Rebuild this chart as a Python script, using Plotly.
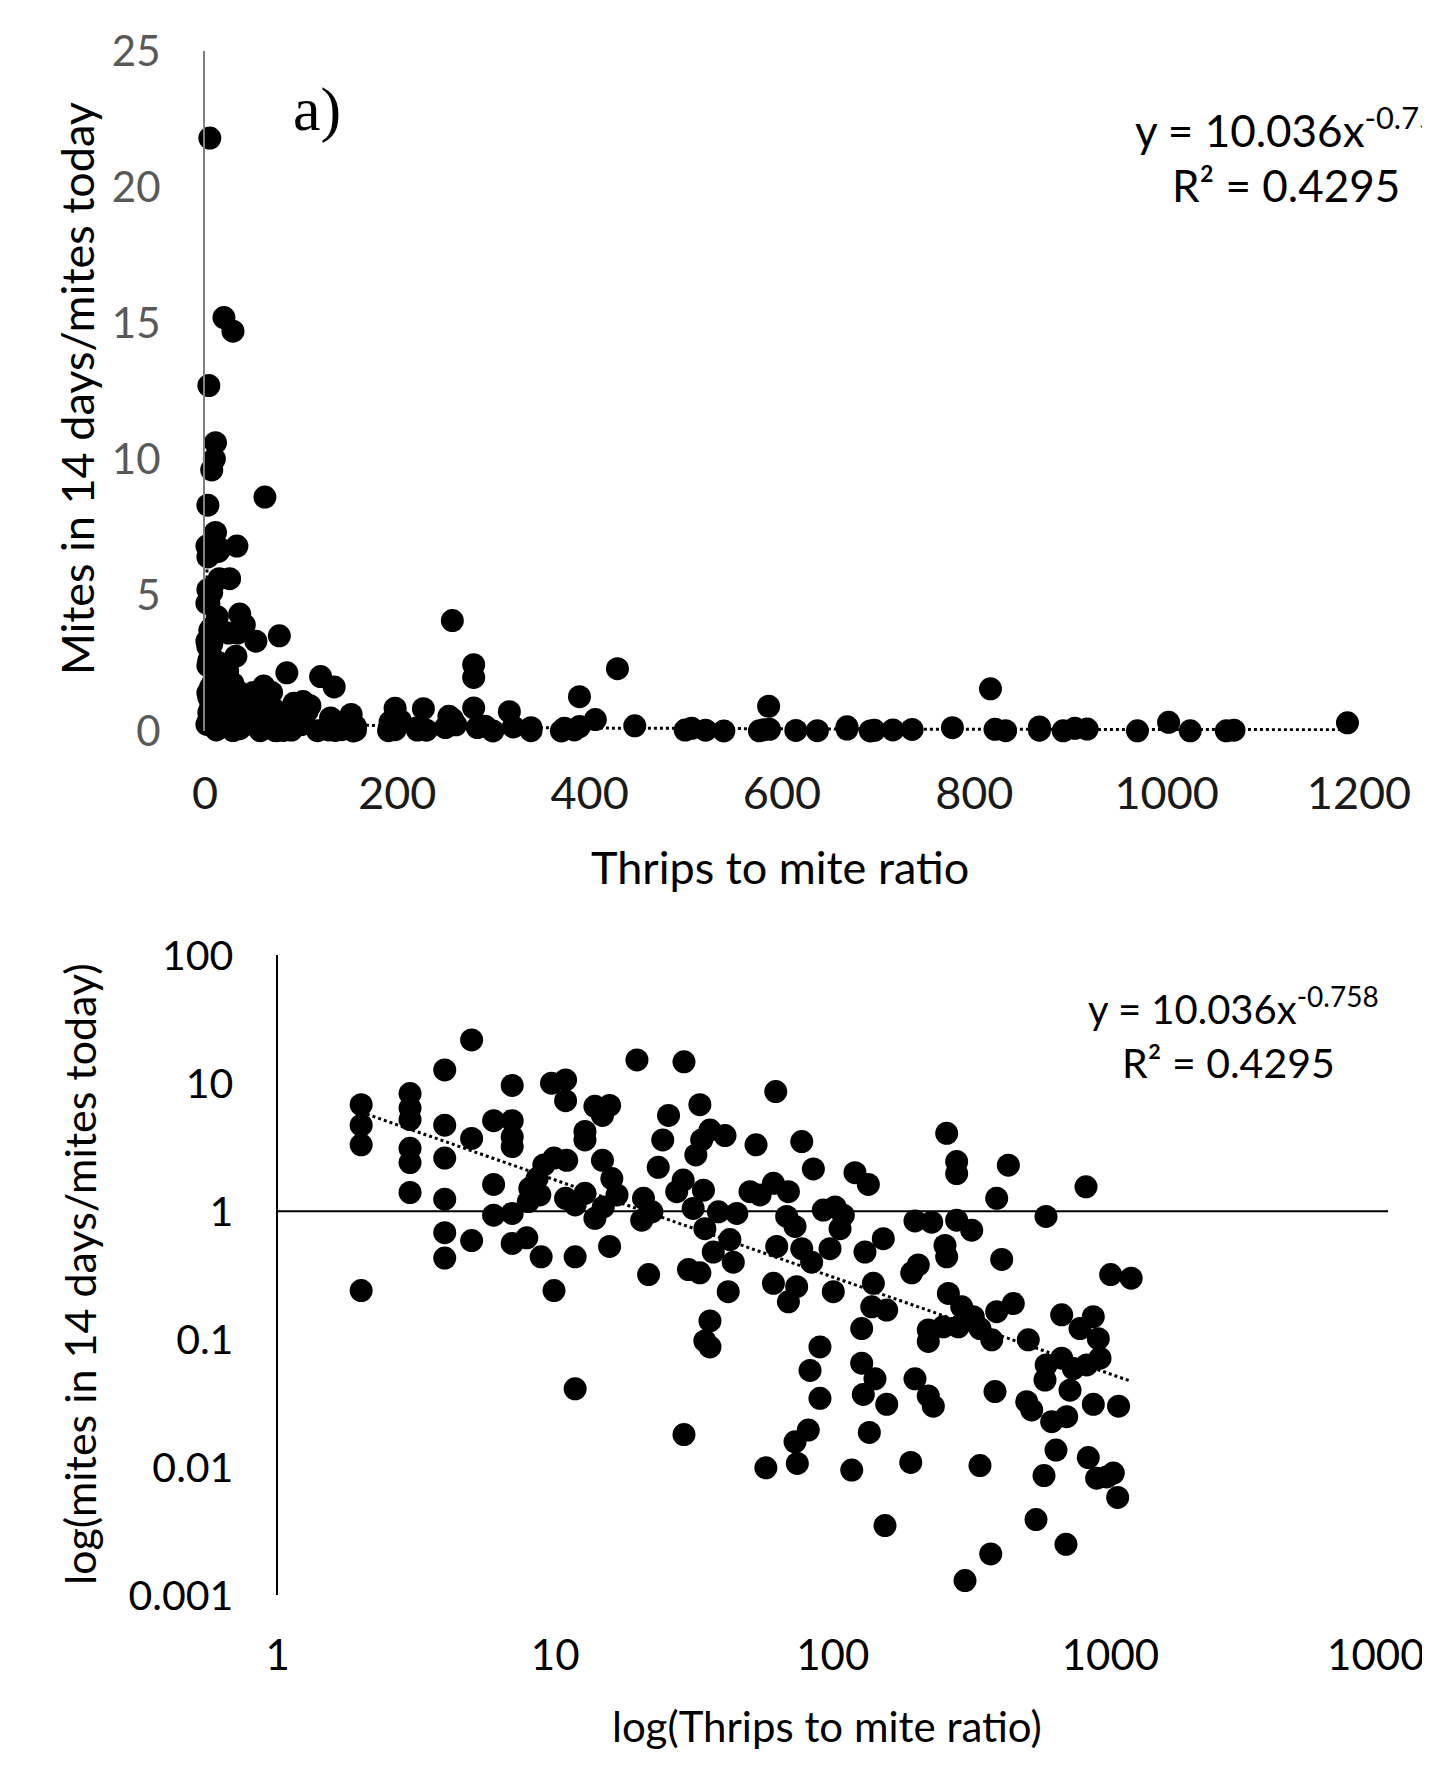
import numpy as np
import plotly.graph_objects as go

# ---------------- data ----------------
thrips_ratio = [
    2, 2, 2, 2,
    3, 3, 3, 3, 3, 3,
    4, 4, 4, 4, 4, 4,
    5, 5, 5,
    6, 6, 6,
    7, 7, 7, 7, 7, 7,
    7.9, 8.0, 8.1, 8.6, 9.1, 9.9, 11, 8.8, 8.9,
    9.7, 10.9, 10.9,
    12.8, 12.8,
    13.9, 15.7, 14.8,
    14.8, 16, 16.7, 10.9, 11.8, 12.8, 13.9, 14.9,
    11.8, 15.7,
    19.7, 29.1,
    25.6, 24.4, 23.5, 33.2, 36.1, 40.9, 33.7, 32.1,
    20.8, 20.5, 22.3, 28.9, 27.4, 34.2, 31.4, 38.7, 45.1,
    34.6, 37.1, 42.6, 43.8,
    21.7, 30.2, 33.2, 9.9,
    42, 36.1, 34.6, 36.1, 11.8, 29.1,
    62.3, 52.9, 77.3, 85.1, 120.2, 134.3, 257.2, 279.4, 279.4, 428.9,
    389.4, 816.8, 586.1, 197.7, 227.1, 279.4, 316.5, 253.6, 257.2, 152,
    130.6, 203.2, 192.4, 405.9, 1002, 1188,
    50.3, 54.7, 61.1, 69.2, 68.2, 73.1, 92.4, 101.9, 109.1, 106.2,
    62.8, 77.3, 97.7, 83.9, 140,
    61.1, 74.1, 69.2, 100.4, 138.1, 156.4, 127.1, 260.8, 291.3, 320.6,
    389.4, 446.9, 220.8, 220.8, 250, 283.2, 339, 373.7, 506, 667.6,
    867.7, 777.2, 904.5, 917.3, 587, 581.3, 667.6, 735.3, 821.5, 715.3,
    867.7, 1070, 499.3, 520.5, 614.4, 696, 384, 89.9, 82.8, 89.9,
    127.1, 141.9, 128.8, 156.4, 197.7, 220.8, 230.2, 81.6, 73.1, 74.5,
    57.4, 135.4, 117, 190.9, 339, 636.8, 576.5, 832.5, 892.4, 1024.5,
    969.6, 1062, 154.2, 539.5, 691.8, 370.6, 299.4,
]
mite_change = [
    6.8, 4.7, 3.3, 0.24,
    8.3, 6.4, 5.2, 3.1, 2.4, 1.4,
    12.7, 4.7, 2.6, 1.24, 0.68, 0.43,
    21.8, 3.7, 0.59,
    5.1, 1.62, 0.93,
    9.6, 5.1, 3.8, 3.2, 0.96, 0.56,
    0.62, 1.19, 1.51, 1.8, 2.3, 2.6, 2.5, 1.34, 0.44,
    10.0, 10.6, 7.3,
    4.2, 3.6,
    6.6, 6.7, 5.6,
    2.5, 1.8, 1.34, 1.26, 1.12, 1.38, 0.88, 1.08,
    0.44, 0.53,
    15.2, 14.7,
    5.6, 3.6, 2.2, 6.8, 4.3, 3.9, 3.6, 2.75,
    1.26, 0.85, 0.99, 1.75, 1.42, 1.46, 1.05, 0.99, 0.96,
    0.73, 0.48, 0.6, 0.4,
    0.32, 0.35, 0.33, 0.24,
    0.235, 0.139, 0.097, 0.087, 0.041, 0.018,
    8.6, 3.3, 3.5, 2.14, 2.0, 1.62, 4.06, 2.44, 1.97, 2.29,
    1.26, 1.55, 0.91, 0.84, 0.82, 0.85, 0.71, 0.54, 0.44, 0.61,
    0.48, 0.38, 0.33, 0.42, 0.32, 0.3,
    1.42, 1.34, 1.65, 1.42, 0.91, 0.76, 1.02, 1.08, 0.93, 0.73,
    0.53, 0.51, 0.51, 0.4, 0.273,
    0.273, 0.257, 0.196, 0.235, 0.179, 0.169, 0.121, 0.228, 0.179, 0.15,
    0.164, 0.19, 0.118, 0.096, 0.125, 0.125, 0.121, 0.099, 0.099, 0.155,
    0.15, 0.121, 0.101, 0.071, 0.063, 0.048, 0.071, 0.059, 0.063, 0.04,
    0.031, 0.03, 0.0325, 0.028, 0.0227, 0.0248, 0.039, 0.087, 0.057, 0.0345,
    0.065, 0.049, 0.037, 0.031, 0.049, 0.036, 0.03, 0.0195, 0.0158, 0.0107,
    0.0099, 0.0187, 0.0095, 0.0109, 0.0103, 0.0136, 0.0086, 0.0119, 0.0082, 0.009,
    0.0084, 0.0058, 0.0035, 0.0039, 0.0025, 0.0021, 0.0013,
]

# power-law trendline reported on the chart
fit_coef = 10.036
fit_exp = -0.758
fit_r2 = 0.4295

lin_x_ticks = [0, 200, 400, 600, 800, 1000, 1200]
lin_y_ticks = [0, 5, 10, 15, 20, 25]
log_x_ticks = [1, 10, 100, 1000, 10000]
log_x_labels = ["1", "10", "100", "1000", "10000"]
log_y_ticks = [0.001, 0.01, 0.1, 1, 10, 100]
log_y_labels = ["0.001", "0.01", "0.1", "1", "10", "100"]

# ---------------- figure ----------------
W, H = 1430, 1777
OFF = 8  # page body margin in front of the figure


def fx(p):
    return (p - OFF) / W


def fy(p):
    return 1 - (p - OFF) / H


FONT = "Lato"
fig = go.Figure()

trend_x = np.geomspace(min(thrips_ratio), max(thrips_ratio), 300)
trend_y = fit_coef * trend_x ** fit_exp

# top panel (linear)
fig.add_trace(go.Scatter(x=thrips_ratio, y=mite_change, mode="markers",
                         marker=dict(color="black", size=23, line=dict(width=0)),
                         cliponaxis=False, xaxis="x", yaxis="y", showlegend=False))
fig.add_trace(go.Scatter(x=trend_x, y=trend_y, mode="lines",
                         line=dict(color="black", width=3, dash="dot"),
                         cliponaxis=False, xaxis="x", yaxis="y", showlegend=False))

# bottom panel (log-log)
fig.add_trace(go.Scatter(x=[log_x_ticks[0], log_x_ticks[-1]], y=[1, 1], mode="lines",
                         line=dict(color="black", width=2),
                         xaxis="x2", yaxis="y2", showlegend=False, hoverinfo="skip"))
fig.add_trace(go.Scatter(x=thrips_ratio, y=mite_change, mode="markers",
                         marker=dict(color="black", size=23, line=dict(width=0)),
                         cliponaxis=False, xaxis="x2", yaxis="y2", showlegend=False))
fig.add_trace(go.Scatter(x=trend_x, y=trend_y, mode="lines",
                         line=dict(color="black", width=3, dash="dot"),
                         xaxis="x2", yaxis="y2", showlegend=False))

fig.update_layout(
    width=W, height=H,
    margin=dict(l=0, r=0, t=0, b=0, pad=0, autoexpand=False),
    paper_bgcolor="white", plot_bgcolor="white",
    font=dict(family=FONT, color="black"),
    showlegend=False,
    xaxis=dict(domain=[fx(205), fx(1359)], range=[0, 1200], anchor="y", automargin=False,
               showline=False, showgrid=False, zeroline=False, ticks="",
               tickvals=lin_x_ticks, tickfont=dict(size=45, color="#1a1a1a"),
               ticklabelstandoff=32, ticklabeloverflow="allow"),
    yaxis=dict(domain=[fy(731), fy(51)], range=[0, 25], anchor="x", automargin=False,
               showline=True, linecolor="#808080", linewidth=2,
               showgrid=False, zeroline=False, ticks="",
               tickvals=lin_y_ticks, tickfont=dict(size=42, color="#595959"),
               ticklabelstandoff=34, ticklabeloverflow="allow"),
    xaxis2=dict(type="log", domain=[fx(277.6), fx(1388)], range=[0, 4], anchor="y2",
                automargin=False,
                showline=False, showgrid=False, zeroline=False, ticks="",
                tickvals=log_x_ticks, ticktext=log_x_labels,
                tickfont=dict(size=42, color="black"), ticklabelstandoff=32,
                ticklabeloverflow="allow"),
    yaxis2=dict(type="log", domain=[fy(1595.2), fy(955.2)], range=[-3, 2], anchor="x2",
                automargin=False,
                showline=True, linecolor="black", linewidth=2,
                showgrid=False, zeroline=False, ticks="",
                tickvals=log_y_ticks, ticktext=log_y_labels,
                tickfont=dict(size=41, color="black"), ticklabelstandoff=34,
                ticklabeloverflow="allow"),
)

eq_line = f"y = {fit_coef:.3f}x<sup>{fit_exp:.3f}</sup>"
r2_line = f"R² = {fit_r2:.4f}"

annotations = [
    # top panel
    dict(text="Mites in 14 days/mites today", x=fx(77), y=fy(389), textangle=-90,
         font=dict(size=45)),
    dict(text="Thrips to mite ratio", x=fx(780), y=fy(867), font=dict(size=45)),
    dict(text="a)", x=fx(317), y=fy(110), font=dict(family="Liberation Serif", size=62)),
    dict(text=eq_line, x=fx(1133), y=fy(128), xanchor="left", font=dict(size=44)),
    dict(text=r2_line, x=fx(1286), y=fy(185), font=dict(size=44)),
    # bottom panel
    dict(text="log(mites in 14 days/mites today)", x=fx(79), y=fy(1274), textangle=-90,
         font=dict(size=43)),
    dict(text="log(Thrips to mite ratio)", x=fx(827), y=fy(1726), font=dict(size=42)),
    dict(text=eq_line, x=fx(1086), y=fy(1006), xanchor="left", font=dict(size=40)),
    dict(text=r2_line, x=fx(1228), y=fy(1062), font=dict(size=41)),
]
for a in annotations:
    a.update(xref="paper", yref="paper", showarrow=False)
    a.setdefault("xanchor", "center")
    a.setdefault("yanchor", "middle")
fig.update_layout(annotations=annotations)

fig.write_html("out.html")
